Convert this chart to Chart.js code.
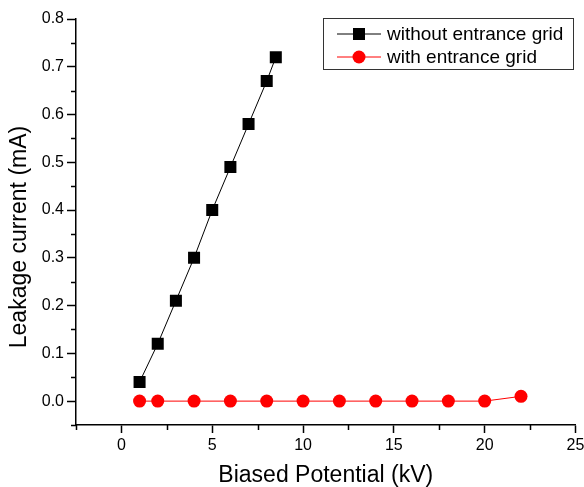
<!DOCTYPE html>
<html>
<head>
<meta charset="utf-8">
<script src="https://cdn.jsdelivr.net/npm/chart.js@4"></script>
<style>
  html, body { margin: 0; padding: 0; background: #fff; }
  #wrap { width: 584px; height: 487px; }
</style>
</head>
<body>
<div id="wrap"><canvas id="c"></canvas></div>
<script>
// Leakage current vs biased potential

const FONT = '"Liberation Sans", Arial, sans-serif';

const NO_GRID_X = [1, 2, 3, 4, 5, 6, 7, 8, 8.5];
const NO_GRID_Y = [0.04, 0.12, 0.21, 0.30, 0.40, 0.49, 0.58, 0.67, 0.72];

const GRID_X = [1, 2, 4, 6, 8, 10, 12, 14, 16, 18, 20, 22];
const GRID_Y = [0, 0, 0, 0, 0, 0, 0, 0, 0, 0, 0, 0.01];

const X_TICKS = [0, 5, 10, 15, 20, 25];
const X_MINOR = [-2.5, 2.5, 7.5, 12.5, 17.5, 22.5];
const Y_TICKS = [0, 0.1, 0.2, 0.3, 0.4, 0.5, 0.6, 0.7, 0.8];
const Y_MINOR = [-0.05, 0.05, 0.15, 0.25, 0.35, 0.45, 0.55, 0.65, 0.75];

const LABELS = ['without entrance grid', 'with entrance grid'];
const Y_TITLE = 'Leakage current (mA)';

const toPoints = (xs, ys) => xs.map((x, i) => ({ x, y: ys[i] }));

const minorTicks = {
  id: 'minorTicks',
  afterDraw(chart) {
    const { ctx, scales: { x, y } } = chart;
    ctx.save();
    ctx.strokeStyle = '#000';
    ctx.lineWidth = 1.5;
    ctx.beginPath();
    X_MINOR.forEach(v => {
      const px = Math.round(x.getPixelForValue(v)) + 0.5;
      ctx.moveTo(px, x.top);
      ctx.lineTo(px, x.top + 5);
    });
    Y_MINOR.forEach(v => {
      const py = Math.round(y.getPixelForValue(v)) + 0.5;
      ctx.moveTo(y.right, py);
      ctx.lineTo(y.right - 5, py);
    });
    ctx.stroke();
    ctx.restore();
  },
};

// y title sits a little below the axis centre in the original
const yTitle = {
  id: 'yTitle',
  afterDraw(chart) {
    const { ctx } = chart;
    ctx.save();
    ctx.translate(20, 237);
    ctx.rotate(-Math.PI / 2);
    ctx.font = '23px ' + FONT;
    ctx.fillStyle = '#000';
    ctx.textAlign = 'center';
    ctx.textBaseline = 'middle';
    ctx.fillText(Y_TITLE, 0, 0);
    ctx.restore();
  },
};

const boxLegend = {
  id: 'boxLegend',
  afterDraw(chart) {
    const { ctx } = chart;
    const left = 323, top = 18, w = 250, h = 51;
    ctx.save();
    ctx.strokeStyle = '#333';
    ctx.lineWidth = 1;
    ctx.strokeRect(left + 0.5, top + 0.5, w, h);
    ctx.font = '19px ' + FONT;
    ctx.textBaseline = 'middle';
    ctx.textAlign = 'left';
    chart.data.datasets.forEach((ds, i) => {
      const cy = top + 16 + i * 23;
      ctx.strokeStyle = ds.borderColor;
      ctx.lineWidth = 1;
      ctx.beginPath();
      ctx.moveTo(337, cy);
      ctx.lineTo(381, cy);
      ctx.stroke();
      ctx.fillStyle = ds.pointBackgroundColor;
      ctx.beginPath();
      if (ds.pointStyle === 'rect') {
        ctx.rect(359 - 6, cy - 6, 12, 12);
      } else {
        ctx.arc(359, cy, 6.5, 0, Math.PI * 2);
      }
      ctx.fill();
      ctx.fillStyle = '#000';
      ctx.fillText(ds.label, 387, cy + 1);
    });
    ctx.restore();
  },
};

new Chart(document.getElementById('c'), {
  type: 'scatter',
  data: {
    datasets: [
      {
        label: LABELS[0],
        data: toPoints(NO_GRID_X, NO_GRID_Y),
        showLine: true,
        borderColor: '#000',
        borderWidth: 1,
        pointStyle: 'rect',
        pointRadius: 8.5,
        pointBackgroundColor: '#000',
        pointBorderWidth: 0,
      },
      {
        label: LABELS[1],
        data: toPoints(GRID_X, GRID_Y),
        showLine: true,
        borderColor: '#ff0000',
        borderWidth: 1,
        pointStyle: 'circle',
        pointRadius: 6.5,
        pointBackgroundColor: '#ff0000',
        pointBorderWidth: 0,
      },
    ],
  },
  options: {
    responsive: true,
    maintainAspectRatio: false,
    animation: false,
    layout: { padding: { top: 19, right: 7, left: 0, bottom: 0 } },
    plugins: {
      legend: { display: false },
      tooltip: { enabled: false },
    },
    scales: {
      x: {
        type: 'linear',
        min: -2.5,
        max: 25,
        afterBuildTicks: s => { s.ticks = X_TICKS.map(v => ({ value: v })); },
        afterFit: s => { s.height = 62; s.paddingRight = 0; s.paddingLeft = 0; },
        border: { color: '#000', width: 1.5 },
        grid: { drawOnChartArea: false, tickLength: 8, tickColor: '#000', tickWidth: 1.5 },
        ticks: {
          color: '#000',
          padding: 3,
          maxRotation: 0,
          font: { family: FONT, size: 16 },
          callback: v => String(v),
        },
        title: {
          display: true,
          text: 'Biased Potential (kV)',
          color: '#000',
          font: { family: FONT, size: 23, lineHeight: 1 },
          padding: { top: 4, bottom: 0 },
        },
      },
      y: {
        type: 'linear',
        min: -0.05,
        max: 0.8,
        afterBuildTicks: s => { s.ticks = Y_TICKS.map(v => ({ value: v })); },
        afterFit: s => { s.width = 76; },
        border: { color: '#000', width: 1.5 },
        grid: { drawOnChartArea: false, tickLength: 9, tickColor: '#000', tickWidth: 1.5 },
        ticks: {
          color: '#000',
          padding: 3,
          font: { family: FONT, size: 16 },
          callback: v => v.toFixed(1),
        },
      },
    },
  },
  plugins: [minorTicks, yTitle, boxLegend],
});
</script>
</body>
</html>
